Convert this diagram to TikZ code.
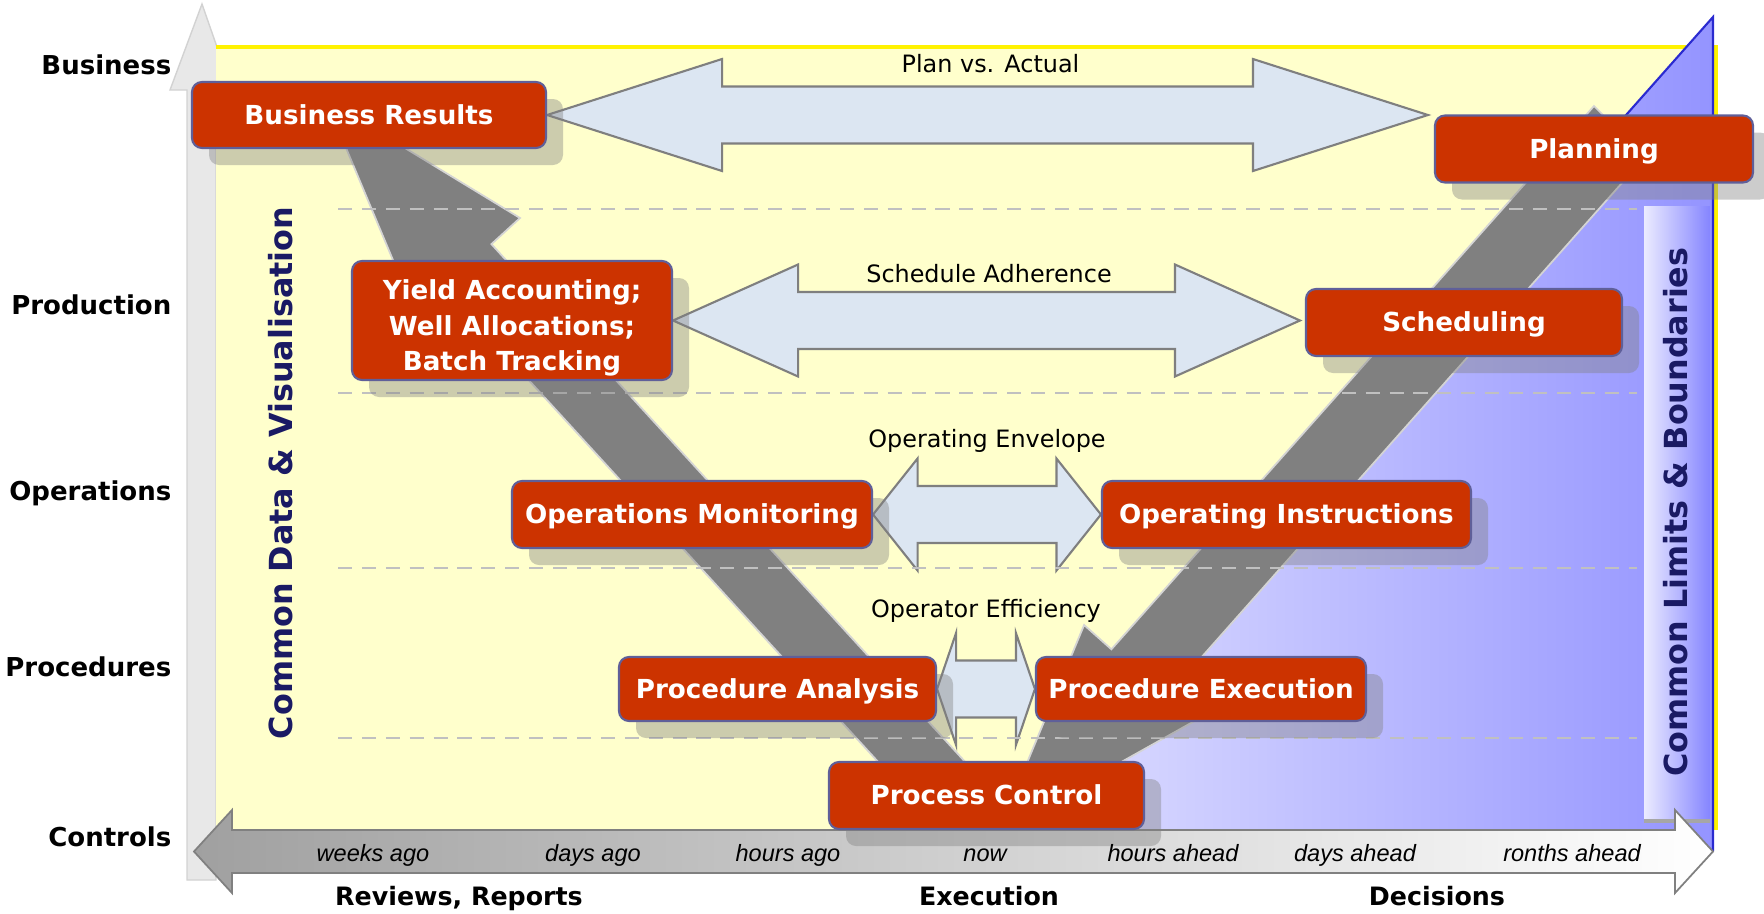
\documentclass[tikz,border=0pt]{standalone}
\usepackage{fontspec}
\setmainfont{DejaVu Sans}
\newfontfamily\axisfont{Liberation Sans}
\usetikzlibrary{calc,shadows}
\definecolor{boxred}{HTML}{CC3300}
\definecolor{boxline}{HTML}{5F5F99}
\definecolor{flowfill}{HTML}{DCE6F2}
\definecolor{flowline}{HTML}{7F7F7F}
\definecolor{paper}{HTML}{FFFFCC}
\definecolor{navy}{HTML}{1A1A64}
\definecolor{limitlo}{HTML}{E6E6FF}
\definecolor{limithi}{HTML}{9494FF}
\definecolor{limitline}{HTML}{2A2AD0}
\definecolor{armgrey}{HTML}{808080}
\definecolor{armedge}{HTML}{D4D4D4}
\definecolor{rowgrey}{HTML}{C0C0C0}
\definecolor{axisfill}{HTML}{E8E8E8}
\definecolor{axisline}{HTML}{D2D2D2}
\definecolor{timelo}{HTML}{A0A0A0}
\pgfdeclarelayer{back}
\pgfdeclarelayer{mid}
\pgfsetlayers{back,mid,main}

% block arrow with two heads, tips at #1 and #2, head length #3
\newcommand{\bandarrow}[3]{%
  \path[bandarrow] let \p1=(#1), \p2=(#2) in
    (\x1,\y1) -- (\x1+#3,\y1+5.6mm) -- (\x1+#3,\y1+2.85mm) -- (\x2-#3,\y1+2.85mm)
    -- (\x2-#3,\y1+5.6mm) -- (\x2,\y1) -- (\x2-#3,\y1-5.6mm) -- (\x2-#3,\y1-2.85mm)
    -- (\x1+#3,\y1-2.85mm) -- (\x1+#3,\y1-5.6mm) -- cycle;}

\begin{document}
\begin{tikzpicture}[x=0.1mm,y=-0.1mm,
    taskbox/.style={draw=boxline,line width=0.6pt,fill=boxred,rounded corners=1mm,
      text=white,inner sep=0pt,font=\fontsize{7.45pt}{10.1pt}\selectfont\bfseries,
      drop shadow={shadow xshift=1.7mm,shadow yshift=-1.7mm,fill=black!50,opacity=0.4}},
    tasksingle/.style={taskbox,text height=2.2mm,text depth=0.4mm},
    bandarrow/.style={draw=flowline,line width=0.6pt,fill=flowfill},
    bandtext/.style={inner sep=0pt,font=\fontsize{6.8pt}{8pt}\selectfont},
    rowlabel/.style={anchor=base east,inner sep=0pt,font=\fontsize{7.4pt}{9pt}\selectfont\bfseries},
    timelabel/.style={anchor=base,inner sep=0pt,font=\axisfont\itshape\fontsize{6.7pt}{8pt}\selectfont},
    phaselabel/.style={anchor=base,inner sep=0pt,font=\fontsize{7.2pt}{9pt}\selectfont\bfseries},
    sidelabel/.style={rotate=90,inner sep=0pt,text=navy,font=\fontsize{9.05pt}{11pt}\selectfont\bfseries},
    vband/.style={fill=armgrey,draw=armedge,line width=0.5pt},
    rowline/.style={draw=rowgrey,line width=0.6pt,dash pattern=on 4pt off 2.8pt}]
  \useasboundingbox (0,0) rectangle (1764,914);

  \begin{pgfonlayer}{back}
    % vertical axis arrow and the field
    \path[draw=axisline,fill=axisfill] (187,880) -- (187,90) -- (170,90) -- (202,4)
      -- (232,90) -- (216,90) -- (216,880) -- cycle;
    \path[fill=paper] (216,47) rectangle (1716,830);
    \path[draw=yellow,line width=0.9pt] (216,47) -- (1716,47) -- (1716,830);
    \path[draw=limitline,line width=0.6pt,left color=limitlo,right color=limithi]
      (1713,17) -- (1713,850) -- (974,850) -- cycle;
    \path[left color=limitlo!80!white,right color=limithi!90!blue] (1644,206) rectangle (1710,821);
    \path[draw=gray!70,line width=1pt] (1644,821) -- (1710,821);
    % the V
    \path[vband] (326,100) -- (520,218) -- (491.4,244.1) -- (1000,800) -- (913,800)
      -- (444,287.5) -- (415.4,313.6) -- cycle;
    \path[vband] (1594,106) -- (1645,157) -- (1165.8,697.5) -- (1193.1,721.8) -- (999,830.5)
      -- (1084.1,625) -- (1111.4,649.3) -- cycle;
  \end{pgfonlayer}

  \node[tasksingle,minimum width=35.4mm,minimum height=6.6mm] (br) at (369,115) {Business Results};
  \node[tasksingle,minimum width=31.8mm,minimum height=6.7mm] (pl) at (1594,149) {Planning};
  \node[taskbox,align=center,text height=30.4pt,text depth=1.8pt,
    minimum width=32mm,minimum height=11.9mm] (ya) at (512,320.5)
    {Yield Accounting;\\Well Allocations;\\Batch Tracking};
  \node[tasksingle,minimum width=31.6mm,minimum height=6.7mm] (sc) at (1464,322.5) {Scheduling};
  \node[tasksingle,minimum width=36mm,minimum height=6.7mm] (om) at (692,514.5) {Operations Monitoring};
  \node[tasksingle,minimum width=36.9mm,minimum height=6.7mm] (oi) at (1286.5,514.5) {Operating Instructions};
  \node[tasksingle,minimum width=31.7mm,minimum height=6.4mm] (pa) at (777.5,689) {Procedure Analysis};
  \node[tasksingle,minimum width=33mm,minimum height=6.4mm] (pe) at (1201,689) {Procedure Execution};
  \node[tasksingle,minimum width=31.5mm,minimum height=6.7mm] (pc) at (986.5,795.5) {Process Control};

  \begin{pgfonlayer}{mid}
    \bandarrow{br.east}{$(pl.west |- br.east)+(-6,0)$}{17.5mm}
    \bandarrow{ya.east}{$(sc.west |- ya.east)+(-5,0)$}{12.5mm}
    \bandarrow{om.east}{oi.west}{4.45mm}
    \bandarrow{pa.east}{pe.west}{1.9mm}
    \foreach \y in {209,393,568,738}
      \path[rowline] (338,\y) -- (1637,\y);
    % time axis
    \path[draw=gray,line width=0.5pt,left color=timelo,right color=white]
      (194,851.5) -- (232,810) -- (232,830) -- (1675,830) -- (1675,810) -- (1713,851.5)
      -- (1675,893) -- (1675,873) -- (232,873) -- (232,893) -- cycle;
  \end{pgfonlayer}

  \node[bandtext] (tpa) at ($(br.east)!0.5!(pl.west |- br.east)+(0,-51)$) {Plan vs. Actual};
  \node[bandtext] (tsa) at ($(ya.east)!0.5!(sc.west |- ya.east)+(0,-47)$) {Schedule Adherence};
  \node[bandtext] (toe) at ($(om.east)!0.5!(oi.west)+(0,-74)$) {Operating Envelope};
  \node[bandtext] (tof) at ($(pa.east)!0.5!(pe.west)+(0,-78)$) {Operator Efficiency};

  \node[rowlabel] (rbu) at (172,74.5) {Business};
  \node[rowlabel] (rpr) at (172,314.5) {Production};
  \node[rowlabel] (rop) at (172,500) {Operations};
  \node[rowlabel] (rpc) at (172,676.5) {Procedures};
  \node[rowlabel] (rco) at (172,846.5) {Controls};

  \node[sidelabel] (cdv) at (281,473) {Common Data \& Visualisation};
  \node[sidelabel] (clb) at (1676,512) {Common Limits \& Boundaries};

  \node[timelabel] (t1) at (373,861) {weeks ago};
  \node[timelabel] (t2) at (593,861) {days ago};
  \node[timelabel] (t3) at (788,861) {hours ago};
  \node[timelabel] (t4) at (985,861) {now};
  \node[timelabel] (t5) at (1173,861) {hours ahead};
  \node[timelabel] (t6) at (1355,861) {days ahead};
  \node[timelabel] (t7) at (1572,861) {ronths ahead};

  \node[phaselabel] (prr) at (459,905) {Reviews, Reports};
  \node[phaselabel] (pex) at (989,905) {Execution};
  \node[phaselabel] (pde) at (1437,905) {Decisions};
\end{tikzpicture}
\end{document}
